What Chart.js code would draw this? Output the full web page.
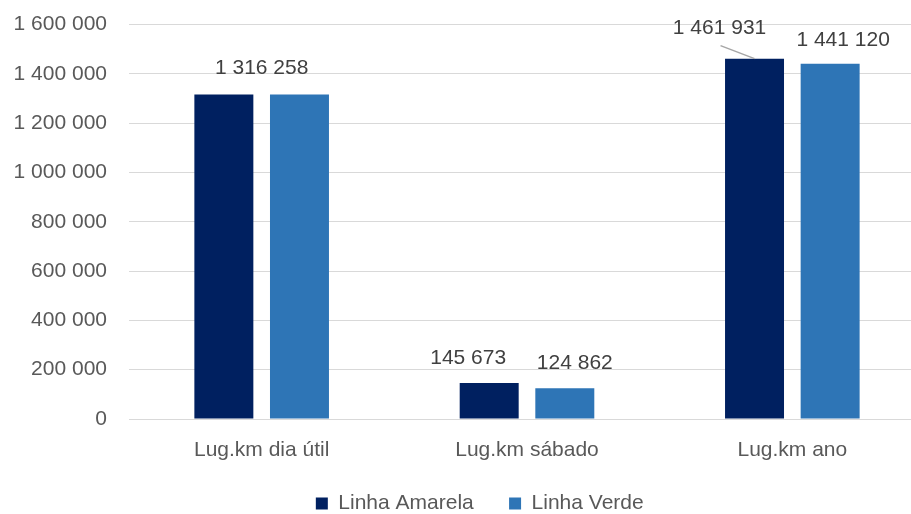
<!DOCTYPE html>
<html lang="pt">
<head>
    <meta charset="UTF-8">
    <title>Lug.km</title>
    <script src="https://cdn.jsdelivr.net/npm/chart.js"></script>
    <style>
        html, body { margin: 0; padding: 0; background: #fff; }
        #wrap { width: 911px; height: 514px; overflow: hidden; position: relative; }
        #box { width: 955px; height: 534px; position: absolute; left: 0; top: -10px; }
    </style>
</head>
<body>
    <div id="wrap">
        <div id="box"><canvas id="chart"></canvas></div>
    </div>

    <script>
        // dados
        const categorias = ['Lug.km dia útil', 'Lug.km sábado', 'Lug.km ano'];
        const linhaAmarela = [1316258, 145673, 1461931];
        const linhaVerde = [1316258, 124862, 1441120];
        const yMin = 0, yMax = 1600000, yStep = 200000;

        const fonte = 'Liberation Sans, Arial, sans-serif';
        const cinza = '#595959';

        function fmt(v) {
            return String(v).replace(/\B(?=(\d{3})+(?!\d))/g, ' ');
        }

        // rótulos de dados por cima das barras
        const rotulos = {
            id: 'rotulos',
            afterDatasetsDraw(chart) {
                const ctx = chart.ctx;
                const a = chart.getDatasetMeta(0).data;
                const v = chart.getDatasetMeta(1).data;
                ctx.save();
                ctx.font = '21px ' + fonte;
                ctx.fillStyle = '#404040';
                ctx.textAlign = 'center';
                ctx.textBaseline = 'middle';
                // dia útil: mesmo valor nas duas linhas, um só rótulo
                ctx.fillText(fmt(linhaAmarela[0]), (a[0].x + v[0].x) / 2, Math.min(a[0].y, v[0].y) - 26);
                // sábado: rótulos afastados para não se sobreporem
                ctx.fillText(fmt(linhaAmarela[1]), a[1].x - 21, a[1].y - 25);
                ctx.fillText(fmt(linhaVerde[1]), v[1].x + 10, v[1].y - 25);
                // ano: rótulo amarelo deslocado com linha de chamada
                ctx.fillText(fmt(linhaAmarela[2]), a[2].x - 35, a[2].y - 30);
                ctx.strokeStyle = '#a6a6a6';
                ctx.lineWidth = 1.5;
                ctx.beginPath();
                ctx.moveTo(a[2].x, a[2].y);
                ctx.lineTo(a[2].x - 34, a[2].y - 13);
                ctx.stroke();
                ctx.fillText(fmt(linhaVerde[2]), v[2].x + 13, v[2].y - 24);
                ctx.restore();
            }
        };

        new Chart(document.getElementById('chart'), {
            type: 'bar',
            data: {
                labels: categorias,
                datasets: [
                    { label: 'Linha Amarela', data: linhaAmarela, backgroundColor: '#002060' },
                    { label: 'Linha Verde', data: linhaVerde, backgroundColor: '#2E75B6' }
                ]
            },
            options: {
                responsive: true,
                maintainAspectRatio: false,
                animation: false,
                categoryPercentage: 0.57,
                barPercentage: 0.78,
                layout: { padding: { top: 14, right: 30, bottom: 0, left: 0 } },
                plugins: {
                    tooltip: { enabled: false },
                    legend: {
                        position: 'bottom',
                        labels: {
                            color: cinza,
                            font: { family: fonte, size: 21 },
                            boxWidth: 12,
                            boxHeight: 12,
                            padding: 12,
                            generateLabels(chart) {
                                const itens = Chart.defaults.plugins.legend.labels.generateLabels(chart);
                                itens[0].text = itens[0].text + '    ';
                                // item vazio e invisível só para empurrar a legenda para a direita
                                itens.unshift({ text: '', fillStyle: 'rgba(0,0,0,0)', strokeStyle: 'rgba(0,0,0,0)', lineWidth: 0, datasetIndex: -1 });
                                return itens;
                            }
                        }
                    }
                },
                scales: {
                    x: {
                        grid: { display: false, drawTicks: false },
                        border: { display: false },
                        ticks: { color: cinza, font: { family: fonte, size: 21 }, padding: 19 },
                        afterFit(s) { s.height = 62; }
                    },
                    y: {
                        min: yMin,
                        max: yMax,
                        grid: { color: '#d9d9d9', lineWidth: 1, drawTicks: false },
                        border: { display: false },
                        ticks: {
                            stepSize: yStep,
                            color: cinza,
                            font: { family: fonte, size: 21 },
                            padding: 22,
                            callback: v => fmt(v)
                        },
                        afterFit(s) { s.width = 129; }
                    }
                }
            },
            plugins: [rotulos]
        });
    </script>
</body>
</html>
